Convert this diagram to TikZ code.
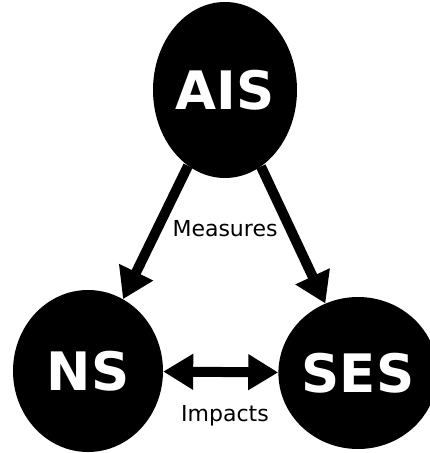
\documentclass[tikz,border=0pt]{standalone}
\usepackage{fontspec}
\setmainfont{DejaVu Sans}
\usetikzlibrary{shapes.geometric,arrows.meta}

\tikzset{
  sysnode/.style={ellipse, fill=black, draw=none, inner sep=0pt,
    text=white, font=\bfseries\fontsize{53}{53}\selectfont},
  link/.style={line width=10pt, draw=black},
  bigtip/.style={-{Triangle[length=30pt,width=36pt]}},
  bothtips/.style={{Triangle[length=30pt,width=34pt]}-{Triangle[length=30pt,width=34pt]}},
  caption/.style={font=\fontsize{22}{22}\selectfont, text=black, inner sep=0pt}
}

\begin{document}
\begin{tikzpicture}[x=1pt,y=-1pt]
  \useasboundingbox (0,0) rectangle (429,453);

  % the three systems
  \node[sysnode, minimum width=144pt, minimum height=176pt] (ais) at (225,90) {AIS};
  \node[sysnode, minimum width=150pt, minimum height=162pt] (ns)  at (88,371) {NS};
  \node[sysnode, minimum width=144pt, minimum height=152pt] (ses) at (358,373) {SES};

  % relations
  \draw[link, bigtip] (ais) -- (ns);
  \draw[link, bigtip] (ais) -- (ses);
  \draw[link, bothtips] (ns) -- (ses);

  % labels
  \node[caption] (measures) at (225,229) {Measures};
  \node[caption] (impacts)  at (225,416) {Impacts};
\end{tikzpicture}
\end{document}
